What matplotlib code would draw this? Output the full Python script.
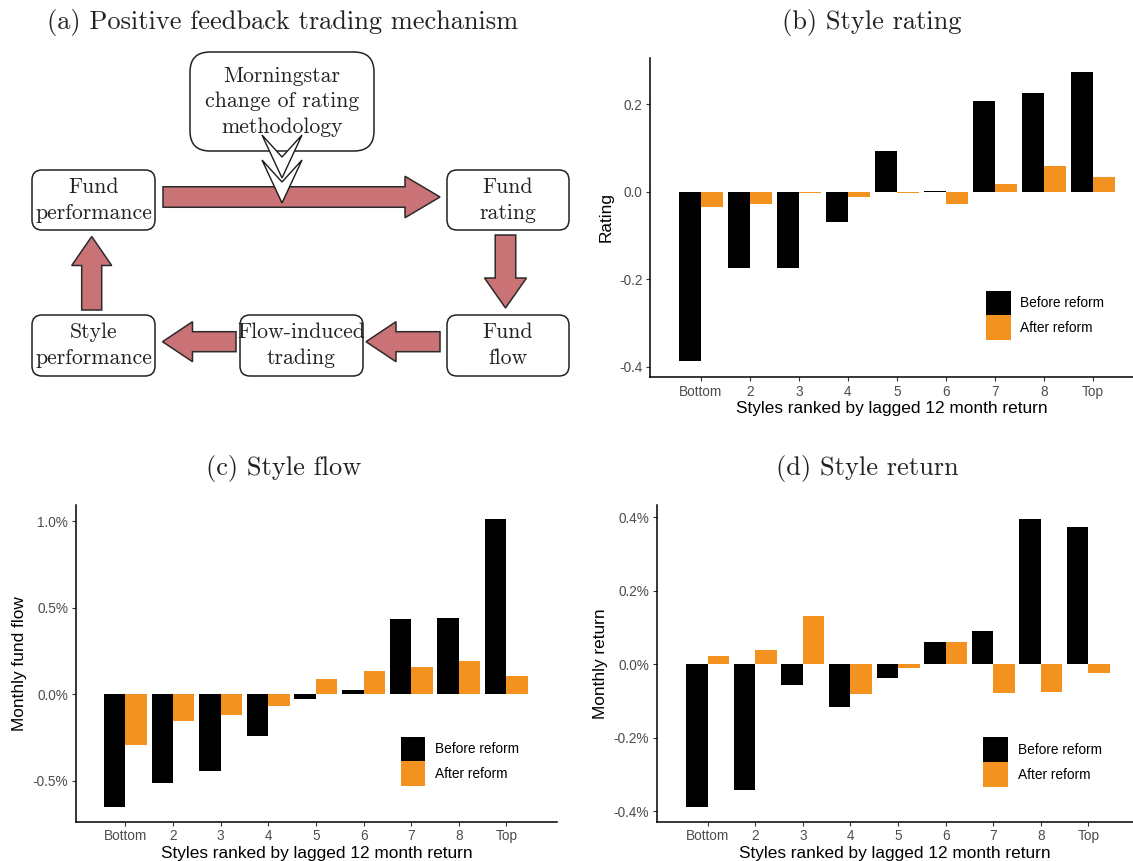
import numpy as np
import matplotlib
matplotlib.use('Agg')
import matplotlib.pyplot as plt
from matplotlib.patches import FancyBboxPatch, Polygon, Patch

W, H = 1133, 861

# bar data
styles = ['Bottom', '2', '3', '4', '5', '6', '7', '8', 'Top']
rating_before = [-0.387, -0.174, -0.174, -0.069, 0.094, 0.002, 0.207, 0.225, 0.273]
rating_after = [-0.036, -0.027, -0.003, -0.011, -0.002, -0.029, 0.018, 0.059, 0.034]
flow_before = [-0.655, -0.516, -0.443, -0.241, -0.027, 0.025, 0.431, 0.440, 1.014]
flow_after = [-0.295, -0.156, -0.121, -0.069, 0.088, 0.133, 0.156, 0.190, 0.104]
return_before = [-0.389, -0.342, -0.056, -0.115, -0.038, 0.061, 0.091, 0.395, 0.374]
return_after = [0.023, 0.039, 0.130, -0.081, -0.009, 0.060, -0.079, -0.075, -0.023]

rating_ticks = [0.2, 0.0, -0.2, -0.4]
rating_ticklabels = ['0.2', '0.0', '-0.2', '-0.4']
flow_ticks = [1.0, 0.5, 0.0, -0.5]
flow_ticklabels = ['1.0%', '0.5%', '0.0%', '-0.5%']
return_ticks = [0.4, 0.2, 0.0, -0.2, -0.4]
return_ticklabels = ['0.4%', '0.2%', '0.0%', '-0.2%', '-0.4%']
series_names = ['Before reform', 'After reform']

BLACK = '#000000'
ORANGE = '#F4921F'
ARROW_RED = '#C97376'
SANS = 'Liberation Sans'
SERIF = 'cmr10'


def px_axes(fig, x0, y0, x1, y1):
    """axes from pixel box (top-left origin)"""
    return fig.add_axes([x0 / W, 1 - y1 / H, (x1 - x0) / W, (y1 - y0) / H])


def bar_panel(ax, before, after, yticks, yticklabels, ylabel, xlim, ylim, legend_xy):
    x = np.arange(1, len(styles) + 1)
    ax.bar(x - 0.225, before, width=0.45, color=BLACK, linewidth=0)
    ax.bar(x + 0.225, after, width=0.45, color=ORANGE, linewidth=0)
    ax.set_xlim(*xlim)
    ax.set_ylim(*ylim)
    ax.set_xticks(x)
    ax.set_xticklabels(styles)
    ax.set_yticks(yticks)
    ax.set_yticklabels(yticklabels)
    ax.set_facecolor('none')
    for s in ['top', 'right']:
        ax.spines[s].set_visible(False)
    for s in ['left', 'bottom']:
        ax.spines[s].set_linewidth(1.1)
    ax.tick_params(length=3, width=0.8, color='#333333', labelcolor='#4D4D4D',
                   labelsize=9.8, pad=2.5)
    for lab in ax.get_xticklabels() + ax.get_yticklabels():
        lab.set_fontfamily(SANS)
    ax.set_ylabel(ylabel, fontsize=12.4, fontfamily=SANS, labelpad=4)
    ax.set_xlabel('Styles ranked by lagged 12 month return', fontsize=12.4,
                  fontfamily=SANS, labelpad=2)
    handles = [Patch(facecolor=BLACK, edgecolor='none', label=series_names[0]),
               Patch(facecolor=ORANGE, edgecolor='none', label=series_names[1])]
    ax.legend(handles=handles, loc='upper left', frameon=False,
              bbox_to_anchor=(legend_xy[0] / W, 1 - legend_xy[1] / H),
              bbox_transform=ax.figure.transFigure, borderpad=0, borderaxespad=0,
              handlelength=1.8, handleheight=2.39, labelspacing=0,
              handletextpad=0.7, prop={'family': SANS, 'size': 9.9})


def block_arrow(ax, start, end, shaft=20, head=41, head_len=33):
    p0 = np.array(start, float)
    p1 = np.array(end, float)
    d = p1 - p0
    L = np.hypot(*d)
    u = d / L
    n = np.array([-u[1], u[0]])
    b = p0 + u * (L - head_len)
    pts = [p0 + n * shaft / 2, b + n * shaft / 2, b + n * head / 2, p1,
           b - n * head / 2, b - n * shaft / 2, p0 - n * shaft / 2]
    ax.add_patch(Polygon(pts, closed=True, fc=ARROW_RED, ec='#2b2b2b', lw=1.1,
                         joinstyle='miter', zorder=2))


def chevron(ax, cx, top, notch, tip, half_w=20):
    pts = [(cx - half_w, top), (cx, tip), (cx + half_w, top), (cx, notch)]
    ax.add_patch(Polygon(pts, closed=True, fc='white', ec='#1a1a1a', lw=1.0,
                         joinstyle='miter', zorder=4))


def box(ax, x0, y0, x1, y1, text, r=10):
    ax.add_patch(FancyBboxPatch((x0, y0), x1 - x0, y1 - y0,
                                boxstyle=f'round,pad=0,rounding_size={r}',
                                fc='white', ec='#222222', lw=1.1, zorder=3))
    ax.text((x0 + x1) / 2, (y0 + y1) / 2, text, ha='center', va='center',
            multialignment='center', fontfamily=SERIF, fontsize=15.7,
            linespacing=1.4, color='#222222', zorder=5)


fig = plt.figure(figsize=(W / 100, H / 100), dpi=100)

# (a) diagram, drawn in pixel coordinates
axd = fig.add_axes([0, 0, 1, 1])
axd.set_xlim(0, W)
axd.set_ylim(H, 0)
axd.axis('off')

box(axd, 190, 52, 374, 151, 'Morningstar\nchange of rating\nmethodology', r=20)
box(axd, 32, 170, 155, 230, 'Fund\nperformance')
box(axd, 447, 170, 569, 230, 'Fund\nrating')
box(axd, 447, 315, 569, 376, 'Fund\nflow')
box(axd, 240, 315, 363, 376, 'Flow-induced\ntrading')
box(axd, 32, 315, 155, 376, 'Style\nperformance')

block_arrow(axd, (163, 197), (440, 197), shaft=20.5, head=41.5, head_len=35)
block_arrow(axd, (505.5, 235), (505.5, 308), shaft=20.5, head=42, head_len=30)
block_arrow(axd, (440, 341.7), (366, 341.7), shaft=20, head=40, head_len=30)
block_arrow(axd, (236, 341.7), (162.5, 341.7), shaft=20, head=40, head_len=30)
block_arrow(axd, (91.7, 310), (91.7, 236.5), shaft=20, head=40, head_len=29)

chevron(axd, 282, 135, 157, 178)
chevron(axd, 282, 160, 182, 203)

# panel titles
fig.text(283 / W, 1 - 23 / H, '(a) Positive feedback trading mechanism',
         ha='center', va='center', fontfamily=SERIF, fontsize=19, color='#222222')
fig.text(872 / W, 1 - 23 / H, '(b) Style rating',
         ha='center', va='center', fontfamily=SERIF, fontsize=19, color='#222222')
fig.text(284 / W, 1 - 468 / H, '(c) Style flow',
         ha='center', va='center', fontfamily=SERIF, fontsize=19, color='#222222')
fig.text(867 / W, 1 - 468 / H, '(d) Style return',
         ha='center', va='center', fontfamily=SERIF, fontsize=19, color='#222222')

# (b) style rating
axb = px_axes(fig, 650, 58, 1133, 377)
bar_panel(axb, rating_before, rating_after, rating_ticks, rating_ticklabels,
          'Rating', (-0.04, 9.82), (-0.4235, 0.3056), (986, 290.7))

# (c) style flow
axc = px_axes(fig, 76, 505, 557, 821.7)
bar_panel(axc, flow_before, flow_after, flow_ticks, flow_ticklabels,
          'Monthly fund flow', (-0.036, 10.06), (-0.738, 1.0925), (400.7, 736.7))

# (d) style return
axr = px_axes(fig, 656.7, 505, 1133, 821.7)
bar_panel(axr, return_before, return_after, return_ticks, return_ticklabels,
          'Monthly return', (-0.071, 9.935), (-0.428, 0.433), (983.3, 737.3))

fig.savefig('out.png', dpi=100)
